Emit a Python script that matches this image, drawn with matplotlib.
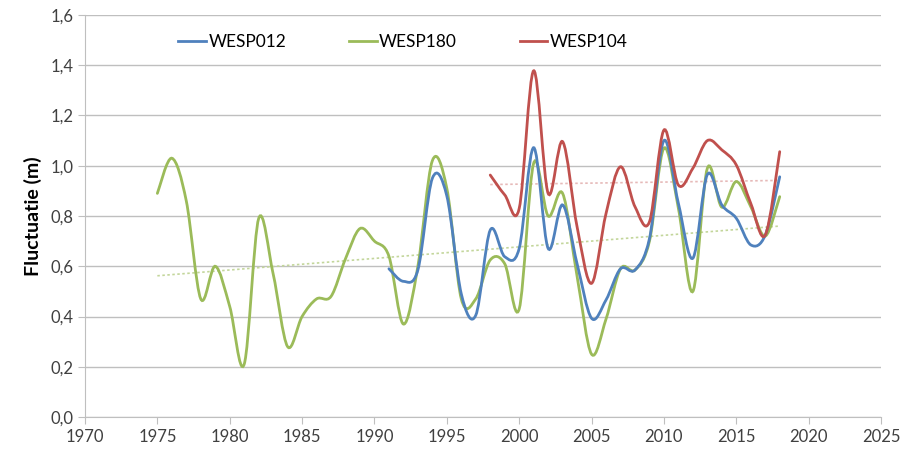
import numpy as np
import matplotlib
matplotlib.use("Agg")
import matplotlib.pyplot as plt
from matplotlib.path import Path
from matplotlib.patches import PathPatch
from matplotlib.lines import Line2D

plt.rcParams['font.family'] = ['Lato', 'DejaVu Sans']

# yearly fluctuation per well (m)
years_180 = list(range(1975, 2019))
wesp180 = [0.89, 1.03, 0.86, 0.47, 0.60, 0.44, 0.21, 0.79, 0.57, 0.28,
           0.40, 0.47, 0.48, 0.63, 0.75, 0.70, 0.64, 0.37, 0.60, 1.02,
           0.91, 0.47, 0.47, 0.625, 0.61, 0.43, 1.01, 0.80, 0.89, 0.56,
           0.25, 0.39, 0.59, 0.585, 0.70, 1.07, 0.83, 0.50, 0.99, 0.835,
           0.937, 0.837, 0.72, 0.877]

years_012 = list(range(1991, 2019))
wesp012 = [0.59, 0.54, 0.585, 0.95, 0.88, 0.49, 0.405, 0.744, 0.638, 0.671,
           1.072, 0.671, 0.844, 0.61, 0.393, 0.466, 0.59, 0.585, 0.71, 1.10,
           0.85, 0.632, 0.965, 0.844, 0.791, 0.685, 0.724, 0.956]

years_104 = list(range(1998, 2019))
wesp104 = [0.963, 0.884, 0.83, 1.378, 0.89, 1.096, 0.757, 0.532, 0.81, 0.996,
           0.837, 0.777, 1.142, 0.923, 0.99, 1.10, 1.063, 1.003, 0.85, 0.724,
           1.056]

blue = '#4F81BD'
green = '#9BBB59'
red = '#C0504D'


def smooth_path(x, y, t=1 / 6):
    # cubic Bezier segments through every point (spreadsheet-style smoothed line)
    x = np.asarray(x, float)
    y = np.asarray(y, float)
    n = len(x)
    verts = [(x[0], y[0])]
    codes = [Path.MOVETO]
    for i in range(n - 1):
        p0 = np.array([x[max(i - 1, 0)], y[max(i - 1, 0)]])
        p1 = np.array([x[i], y[i]])
        p2 = np.array([x[i + 1], y[i + 1]])
        p3 = np.array([x[min(i + 2, n - 1)], y[min(i + 2, n - 1)]])
        c1 = p1 + (p2 - p0) * t
        c2 = p2 - (p3 - p1) * t
        verts += [tuple(c1), tuple(c2), tuple(p2)]
        codes += [Path.CURVE4] * 3
    return Path(verts, codes)


fig = plt.figure(figsize=(9.04, 4.5), dpi=100)
ax = fig.add_axes([0.094, 0.0733, 0.8806, 0.8934])

for xs, ys, col in [(years_180, wesp180, green), (years_012, wesp012, blue),
                    (years_104, wesp104, red)]:
    ax.add_patch(PathPatch(smooth_path(xs, ys), facecolor='none',
                           edgecolor=col, lw=2.0, capstyle='round', zorder=3))

# linear trendlines
for xs, ys, col in [(years_180, wesp180, '#C3D69B'), (years_104, wesp104, '#E6B9B8')]:
    k, b = np.polyfit(xs, ys, 1)
    xx = np.array([xs[0], xs[-1]])
    ax.plot(xx, k * xx + b, color=col, lw=1.2, ls=(0, (1.5, 1.5)), zorder=2)

ax.set_xlim(1970, 2025)
ax.set_ylim(0, 1.6)
ax.set_xticks(range(1970, 2026, 5))
ax.set_yticks(np.arange(0, 1.61, 0.2))
ax.set_yticklabels([f"{v:.1f}".replace('.', ',') for v in np.arange(0, 1.61, 0.2)])
ax.grid(axis='y', color='#BFBFBF', lw=1)
ax.set_axisbelow(True)
for s in ['top', 'right']:
    ax.spines[s].set_visible(False)
for s in ['left', 'bottom']:
    ax.spines[s].set_color('#BFBFBF')
ax.tick_params(colors='#BFBFBF', labelcolor='#404040', labelsize=12, length=5)
ax.set_ylabel('Fluctuatie (m)', fontsize=14, fontweight='bold', labelpad=6)

handles = [Line2D([], [], color=blue, lw=2), Line2D([], [], color=green, lw=2),
           Line2D([], [], color=red, lw=2)]
fig.legend(handles, ['WESP012', 'WESP180', 'WESP104'], ncol=3, loc='center',
           bbox_to_anchor=(403 / 904, 1 - 42 / 450), frameon=False,
           fontsize=12.5, handlelength=1.6, handletextpad=0.15, columnspacing=3.6)

fig.savefig('out.png', dpi=100)
